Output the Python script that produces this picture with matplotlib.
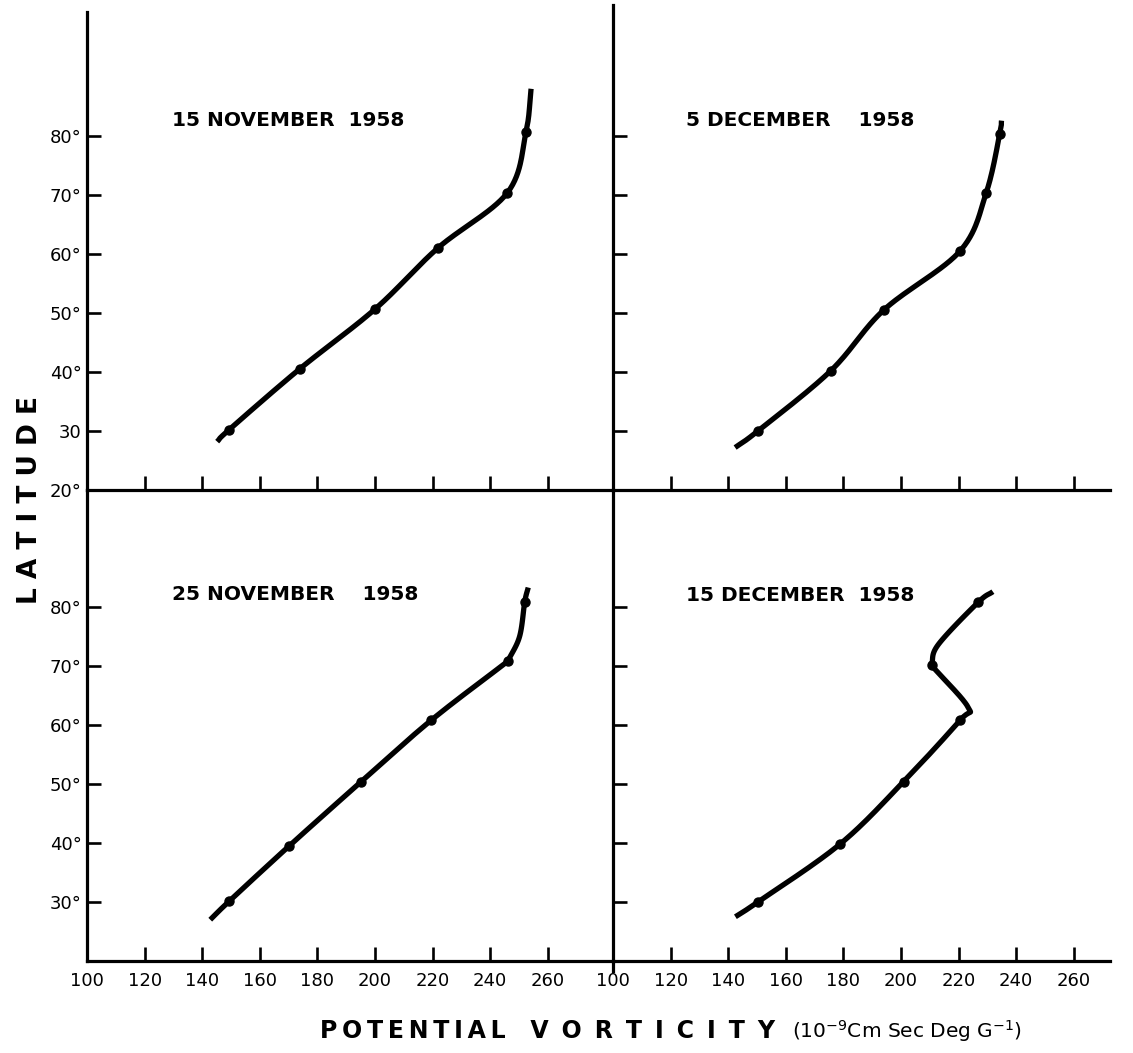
import numpy as np
import matplotlib
matplotlib.use("Agg")
import matplotlib.pyplot as plt
from matplotlib.lines import Line2D

# Valores: vorticidad potencial (10^-9 cm s deg g^-1) vs latitud
# puntos medidos (los que llevan punto negro)
nov15_pv = [149.3, 173.8, 200.1, 221.8, 246.0, 252.4]
nov15_lat = [30.2, 40.5, 50.7, 61.0, 70.4, 80.6]
dec5_pv = [150.3, 175.6, 194.0, 220.5, 229.6, 234.3]
dec5_lat = [30.0, 40.2, 50.5, 60.5, 70.4, 80.4]
nov25_pv = [149.3, 170.2, 195.2, 219.5, 246.1, 252.0]
nov25_lat = [30.1, 39.5, 50.4, 60.8, 70.8, 80.9]
dec15_pv = [150.3, 178.8, 200.9, 220.5, 210.6, 226.8]
dec15_lat = [30.0, 39.8, 50.4, 60.8, 70.1, 80.8]

# trazo de cada curva (nodos del dibujo a mano, por tramos)
nov15_curve = [([145.2, 149.3, 173.8, 200.1, 221.8, 246.0, 252.4, 254.2],
                [28.2, 30.2, 40.5, 50.7, 61.0, 70.4, 80.6, 88.0])]
dec5_curve = [([142.4, 150.3, 175.6, 194.0, 220.5, 229.6, 234.3, 234.9],
               [27.2, 30.0, 40.2, 50.5, 60.5, 70.4, 80.4, 82.6])]
nov25_curve = [([142.8, 149.3, 170.2, 195.2, 219.5, 246.1],
                [27.0, 30.1, 39.5, 50.4, 60.8, 70.8]),
               ([246.1, 250.2, 252.0, 253.2],
                [70.8, 75.0, 80.9, 83.3])]
dec15_curve = [([142.5, 150.3, 178.8, 200.9, 220.5, 223.3, 210.6],
                [27.5, 30.0, 39.8, 50.4, 60.8, 63.0, 70.1]),
               ([210.6, 212.9, 226.8, 231.9],
                [70.1, 73.6, 80.8, 82.6])]

titles = ["15 NOVEMBER  1958", "5 DECEMBER    1958", "25 NOVEMBER    1958", "15 DECEMBER  1958"]
title_pos = [(129.5, 82.6), (125.3, 82.6), (129.5, 82.2), (125.3, 82.0)]

xticks = [100, 120, 140, 160, 180, 200, 220, 240, 260]
yticks = [30, 40, 50, 60, 70, 80]
ylabels_top = ["30", "40°", "50°", "60°", "70°", "80°"]
ylabels_bot = ["30°", "40°", "50°", "60°", "70°", "80°"]


def catmull_rom(px, py, n=30):
    p = np.column_stack([px, py]).astype(float)
    p = np.vstack([2 * p[0] - p[1], p, 2 * p[-1] - p[-2]])
    out = []
    t = np.linspace(0, 1, n, endpoint=False)[:, None]
    for i in range(1, len(p) - 2):
        p0, p1, p2, p3 = p[i - 1], p[i], p[i + 1], p[i + 2]
        seg = 0.5 * ((2 * p1) + (-p0 + p2) * t + (2 * p0 - 5 * p1 + 4 * p2 - p3) * t ** 2
                     + (-p0 + 3 * p1 - 3 * p2 + p3) * t ** 3)
        out.append(seg)
    out.append(p[-2][None])
    return np.vstack(out)


W, H = 1133, 1053
plt.rcParams['font.family'] = ['DejaVu Sans']
fig = plt.figure(figsize=(W / 100, H / 100), dpi=100)

x_left, x_mid, x_right = 87, 613, 1110
y_top_l, y_top_r, y_mid, y_bot = 12, 5, 490, 961
px_per_pv = 2.88


def make_ax(x0, x1, y0, y1):
    return fig.add_axes([x0 / W, 1 - y1 / H, (x1 - x0) / W, (y1 - y0) / H])


ax_tl = make_ax(x_left, x_mid, y_top_l, y_mid)
ax_tr = make_ax(x_mid, x_right, y_top_r, y_mid)
ax_bl = make_ax(x_left, x_mid, y_mid, y_bot)
ax_br = make_ax(x_mid, x_right, y_mid, y_bot)

paneles = [
    (ax_tl, nov15_pv, nov15_lat, nov15_curve, y_top_l),
    (ax_tr, dec5_pv, dec5_lat, dec5_curve, y_top_r),
    (ax_bl, nov25_pv, nov25_lat, nov25_curve, y_mid),
    (ax_br, dec15_pv, dec15_lat, dec15_curve, y_mid),
]

for i, (ax, pv, la, curva, ytop) in enumerate(paneles):
    ancho = (x_mid - x_left) if ax in (ax_tl, ax_bl) else (x_right - x_mid)
    ybase = y_mid if ax in (ax_tl, ax_tr) else y_bot
    ax.set_xlim(100, 100 + ancho / px_per_pv)
    ax.set_ylim(20, 20 + (ybase - ytop) / 5.9)
    for cx, cy in curva:
        s = catmull_rom(cx, cy)
        ax.plot(s[:, 0], s[:, 1], color='black', lw=3.8, solid_capstyle='butt',
                solid_joinstyle='round')
    ax.plot(pv, la, 'o', color='black', ms=6.5)
    ax.text(title_pos[i][0], title_pos[i][1], titles[i], fontsize=14.5,
            fontweight='bold', ha='left', va='center')

    for side in ['top', 'right']:
        ax.spines[side].set_visible(False)
    for side in ['left', 'bottom']:
        ax.spines[side].set_linewidth(2.3)
    ax.tick_params(direction='in', length=10, width=1.9, labelsize=13)
    ax.tick_params(axis='x', pad=8)
    ax.tick_params(axis='y', pad=4)
    ax.set_xticks(xticks)
    ax.set_yticks(yticks)
    ax.patch.set_alpha(0)

ax_tl.set_yticks([20] + yticks)
ax_tl.set_yticklabels(["20°"] + ylabels_top)
ax_bl.set_yticklabels(ylabels_bot)
ax_tr.set_yticklabels([])
ax_br.set_yticklabels([])
ax_tl.set_xticklabels([])
ax_tr.set_xticklabels([])
ax_bl.set_xticklabels([str(v) for v in xticks])
ax_br.set_xticklabels([str(v) for v in xticks])

# la linea vertical central baja un poco por debajo del eje inferior
fig.add_artist(Line2D([x_mid / W, x_mid / W], [1 - y_bot / H, 1 - (y_bot + 10) / H],
                      transform=fig.transFigure, color='black', lw=2.3))

fig.text(30 / W, 1 - 500 / H, "L A T I T U D E", rotation=90, fontsize=19,
         fontweight='bold', ha='center', va='center')

# titulo del eje x: letras espaciadas y unidades
ts = "\u2009"
fig.text(320 / W, 1 - 1031 / H,
         ts.join("POTENTIAL") + "   " + (" " + ts).join("VORTICITY"),
         fontsize=17, fontweight='bold', ha='left', va='center')
fig.text(792 / W, 1 - 1031 / H,
         r"(10$^{-9}$Cm Sec Deg G$^{-1}$)",
         fontsize=14.5, ha='left', va='center')

fig.savefig("out.png", dpi=100, facecolor='white')
